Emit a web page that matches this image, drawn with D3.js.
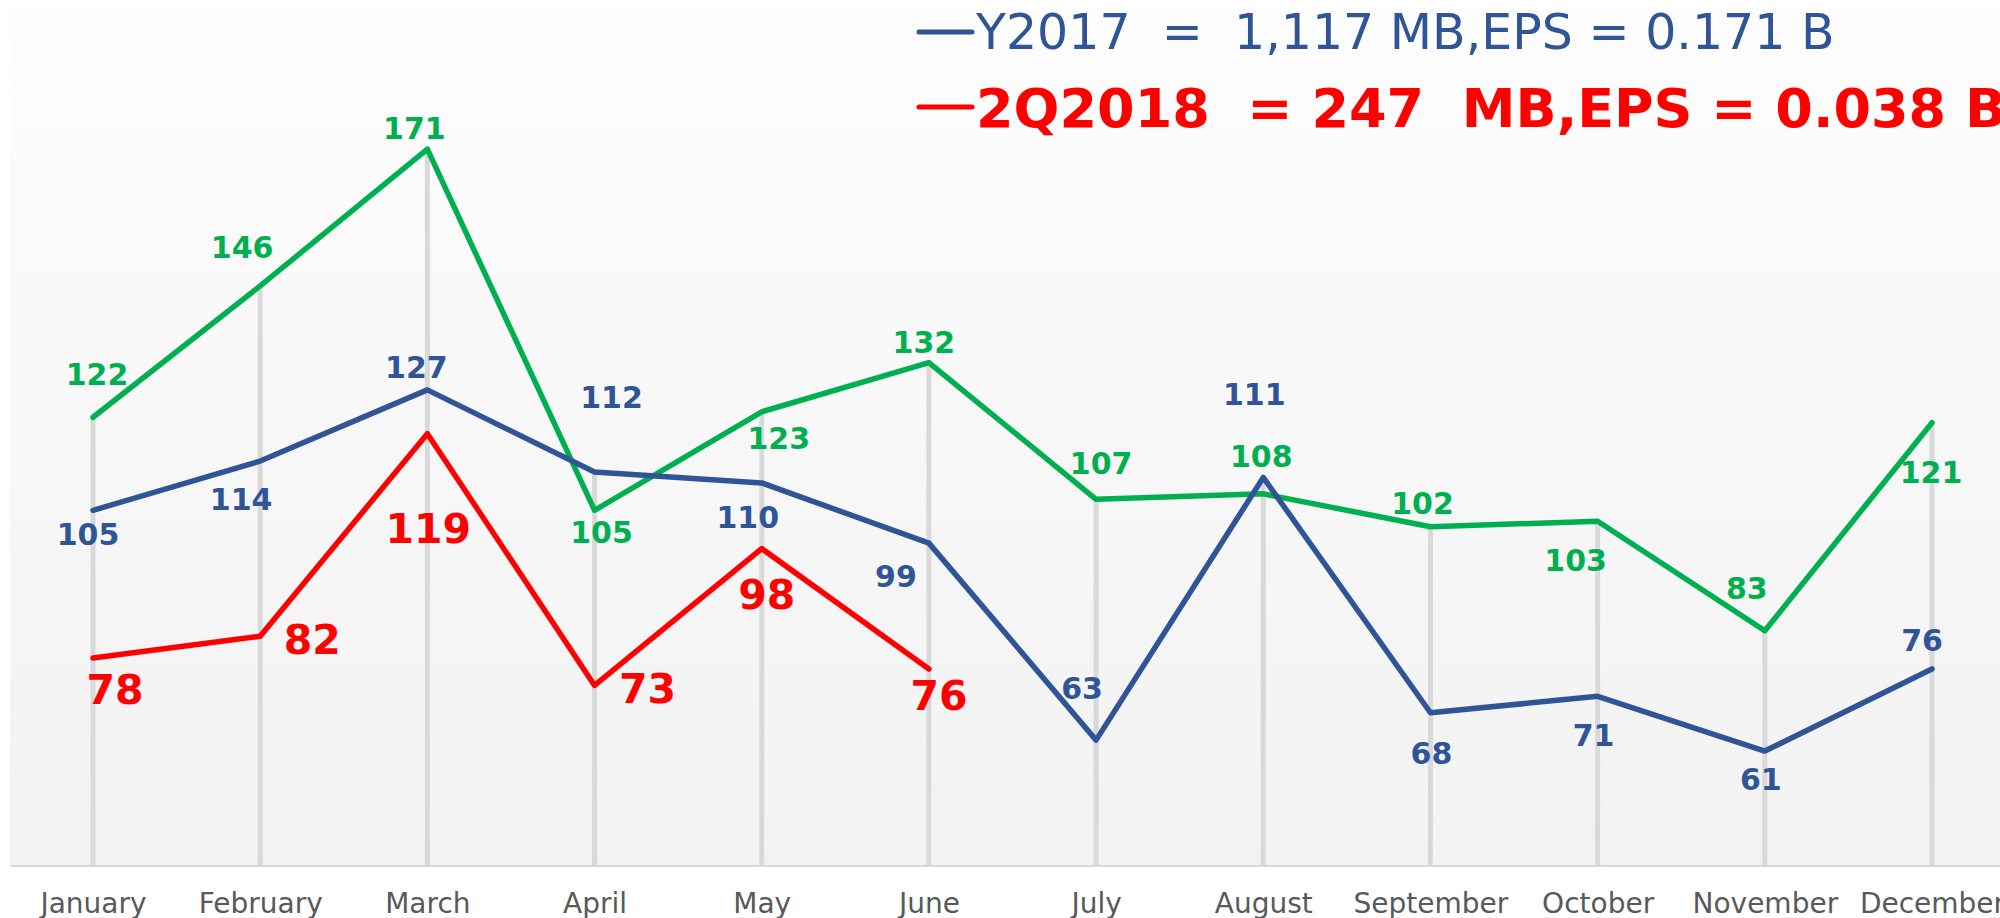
<!DOCTYPE html>
<html>
<head>
<meta charset="utf-8">
<script src="https://cdn.jsdelivr.net/npm/d3@7"></script>
<style>
    html, body { margin: 0; padding: 0; background: #ffffff; }
    #canvas { width: 2000px; height: 918px; overflow: hidden; }
    text { font-family: "DejaVu Sans", Verdana, sans-serif; }
</style>
</head>
<body>
<div id="canvas"></div>
<script>
"use strict"

/* Data */
let months = ["January", "February", "March", "April", "May", "June",
              "July", "August", "September", "October", "November", "December"];

// green line (no legend entry)
let greenValues = [122, 146, 171, 105, 123, 132, 107, 108, 102, 103, 83, 121];
// Y2017
let blueValues = [105, 114, 127, 112, 110, 99, 63, 111, 68, 71, 61, 76];
// 2Q2018 (first six months)
let redValues = [78, 82, 119, 73, 98, 76];

let legendLines = ["Y2017  =  1,117 MB,EPS = 0.171 B",
                   "2Q2018  = 247  MB,EPS = 0.038 B"];

// label nudges [dx, dy] from each point
let greenLabelShift = [[4, -32], [-18, -28], [-13, -10], [7, 33], [17, 37], [-5, -10],
                       [5, -25], [-2, -27], [-8, -13], [-22, 50], [-18, -32], [-1, 60]];
let blueLabelShift = [[-5, 35], [-19, 49], [-11, -12], [17, -64], [-14, 45], [-33, 44],
                      [-14, -41], [-9, -72], [1, 51], [-4, 50], [-4, 39], [-10, -18]];
let redLabelShift = [[22, 46], [52, 18], [1, 109], [53, 18], [5, 60], [10, 41]];

/* Layout */
let svgWidth = 2000;
let svgHeight = 918;
let plotLeft = 10;
let plotTop = 10;
let plotBottom = 866;

let colors = { green: "#00B050", blue: "#2F5597", red: "#FF0000" };

let svg = d3.select("#canvas")
    .append("svg")
    .attr("width", svgWidth)
    .attr("height", svgHeight);

// background gradient of the plot area
let defs = svg.append("defs");
let grad = defs.append("linearGradient")
    .attr("id", "bg")
    .attr("x1", 0).attr("y1", 0).attr("x2", 0).attr("y2", 1);
grad.append("stop").attr("offset", "0%").attr("stop-color", "#fdfdfd");
grad.append("stop").attr("offset", "100%").attr("stop-color", "#f2f2f2");

svg.append("rect")
    .attr("x", plotLeft)
    .attr("y", plotTop)
    .attr("width", svgWidth - plotLeft)
    .attr("height", plotBottom - plotTop)
    .attr("fill", "url(#bg)");

/* Scales */
let xScale = d3.scalePoint()
    .domain(months)
    .range([93, 1932]);

let yScale = d3.scaleLinear()
    .domain([40, 200])
    .range([plotBottom, -9.6]);

// drop lines from the highest point of each month
let dropLines = svg.append("g");
for (let i = 0; i < months.length; i++) {
    let top = Math.max(greenValues[i], blueValues[i], i < redValues.length ? redValues[i] : 0);
    dropLines.append("line")
        .attr("x1", xScale(months[i]))
        .attr("x2", xScale(months[i]))
        .attr("y1", yScale(top))
        .attr("y2", plotBottom)
        .attr("stroke", "#d9d9d9")
        .attr("stroke-width", 5);
}

// x axis
let xAxis = d3.axisBottom(xScale).tickSize(0).tickPadding(27);
let axisG = svg.append("g")
    .attr("transform", "translate(0," + plotBottom + ")")
    .call(xAxis);
axisG.select(".domain").remove();
axisG.selectAll("text")
    .attr("fill", "#595959")
    .style("font-size", "28px")
    .style("font-family", "'DejaVu Sans', Verdana, sans-serif");

svg.append("line")
    .attr("x1", plotLeft)
    .attr("x2", svgWidth)
    .attr("y1", plotBottom)
    .attr("y2", plotBottom)
    .attr("stroke", "#d9d9d9")
    .attr("stroke-width", 2);

/* Lines */
let lineGen = d3.line()
    .x(function(d, i) { return xScale(months[i]); })
    .y(function(d) { return yScale(d); });

function drawSeries(values, color) {
    svg.append("path")
        .datum(values)
        .attr("d", lineGen)
        .attr("fill", "none")
        .attr("stroke", color)
        .attr("stroke-width", 5.5)
        .attr("stroke-linejoin", "round")
        .attr("stroke-linecap", "round");
}

drawSeries(greenValues, colors.green);
drawSeries(blueValues, colors.blue);
drawSeries(redValues, colors.red);

/* Data labels */
function drawLabels(values, shifts, color, size) {
    for (let i = 0; i < values.length; i++) {
        svg.append("text")
            .attr("x", xScale(months[i]) + shifts[i][0])
            .attr("y", yScale(values[i]) + shifts[i][1])
            .attr("text-anchor", "middle")
            .attr("fill", color)
            .attr("font-weight", "bold")
            .style("font-size", size + "px")
            .text(values[i]);
    }
}

drawLabels(greenValues, greenLabelShift, colors.green, 30);
drawLabels(blueValues, blueLabelShift, colors.blue, 30);
drawLabels(redValues, redLabelShift, colors.red, 41);

/* Legend */
let legendX = 919;
let legendRows = [
    { text: legendLines[0], color: colors.blue, lineY: 32, textY: 49, size: 49, weight: "normal" },
    { text: legendLines[1], color: colors.red, lineY: 107, textY: 127, size: 54, weight: "bold" }
];

for (let i = 0; i < legendRows.length; i++) {
    let row = legendRows[i];
    svg.append("line")
        .attr("x1", legendX)
        .attr("x2", legendX + 53)
        .attr("y1", row.lineY)
        .attr("y2", row.lineY)
        .attr("stroke", row.color)
        .attr("stroke-width", 5)
        .attr("stroke-linecap", "round");

    svg.append("text")
        .attr("x", legendX + 57)
        .attr("y", row.textY)
        .attr("fill", row.color)
        .attr("font-weight", row.weight)
        .style("font-size", row.size + "px")
        .style("white-space", "pre")
        .attr("xml:space", "preserve")
        .text(row.text);
}
</script>
</body>
</html>
